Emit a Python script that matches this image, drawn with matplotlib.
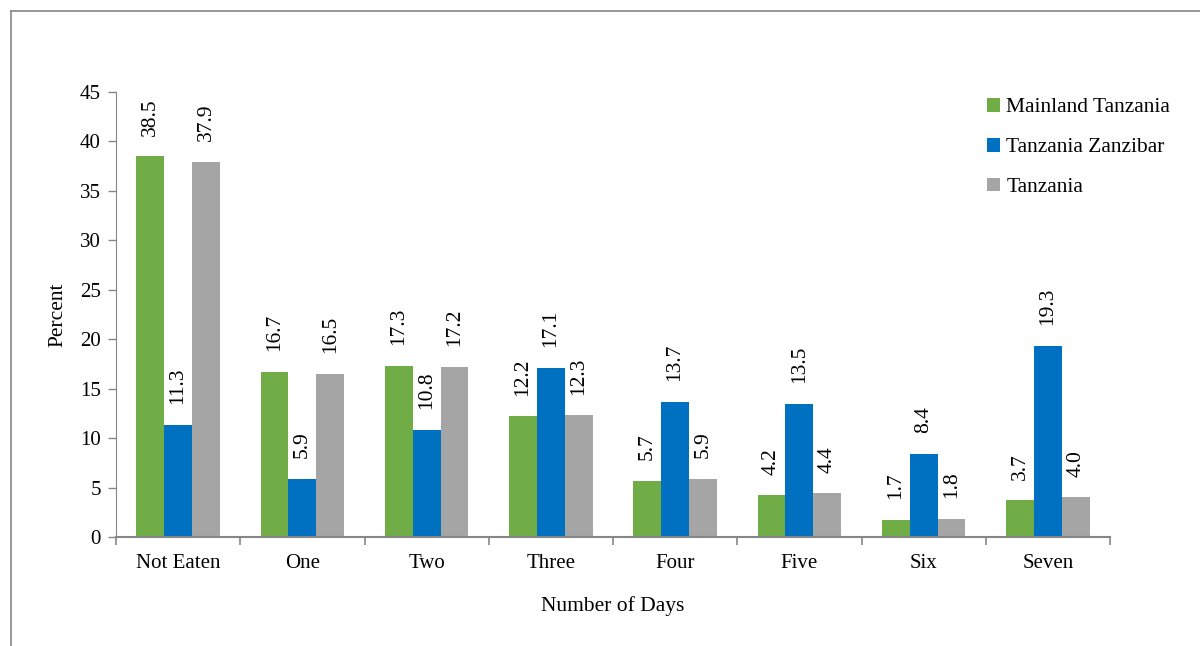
import matplotlib
matplotlib.use("Agg")
import matplotlib.pyplot as plt
import numpy as np
from matplotlib.lines import Line2D

plt.rcParams['font.family'] = ['Liberation Serif', 'DejaVu Serif']

categories = ["Not Eaten", "One", "Two", "Three", "Four", "Five", "Six", "Seven"]
series_names = ["Mainland Tanzania", "Tanzania Zanzibar", "Tanzania"]
mainland = [38.5, 16.7, 17.3, 12.2, 5.7, 4.2, 1.7, 3.7]
zanzibar = [11.3, 5.9, 10.8, 17.1, 13.7, 13.5, 8.4, 19.3]
tanzania = [37.9, 16.5, 17.2, 12.3, 5.9, 4.4, 1.8, 4.0]
colors = ["#70AD47", "#0070C0", "#A5A5A5"]
yticks = [0, 5, 10, 15, 20, 25, 30, 35, 40, 45]

fig = plt.figure(figsize=(12, 6.46), dpi=100)
ax = fig.add_axes([116/1200, 1-537/646, (1110-116)/1200, (537-92)/646])

x = np.arange(len(categories))
w = 0.224
for i, (vals, c, name) in enumerate(zip([mainland, zanzibar, tanzania], colors, series_names)):
    pos = x + (i - 1) * w
    ax.bar(pos, vals, width=w, color=c, label=name)
    for p, v in zip(pos, vals):
        ax.text(p, v + 2.1, f"{v:.1f}", rotation=90, ha='center', va='bottom', fontsize=15.5)

ax.set_xlim(-0.5, len(categories) - 0.5)
ax.set_ylim(0, 45)
ax.set_yticks(yticks)
ax.set_yticklabels([str(t) for t in yticks], fontsize=15)
ax.set_xticks(x)
ax.set_xticklabels(categories, fontsize=15)
ax.set_xticks(np.arange(-0.5, len(categories)), minor=True)
ax.tick_params(axis='x', which='major', length=0, pad=12)
ax.tick_params(axis='x', which='minor', length=6, color='#868686', width=1.2, direction='out')
ax.tick_params(axis='y', length=6, color='#868686', width=1, pad=5)
for s in ['top', 'right']:
    ax.spines[s].set_visible(False)
for s in ['left', 'bottom']:
    ax.spines[s].set_color('#868686')
ax.spines['bottom'].set_linewidth(1.5)
ax.set_ylabel("Percent", fontsize=15.5, labelpad=9)
ax.set_xlabel("Number of Days", fontsize=15.5, labelpad=17)

leg = ax.legend(loc='upper left', bbox_to_anchor=(972/1200, 1-83/646), bbox_transform=fig.transFigure,
                frameon=False, fontsize=15.5, handlelength=0.6, handleheight=0.6, handletextpad=0.3,
                labelspacing=0.95, borderpad=0.2)

fig.add_artist(Line2D([11/1200, 11/1200], [0, 1-11/646], transform=fig.transFigure, color='#868686', lw=1.2))
fig.add_artist(Line2D([11/1200, 1], [1-11/646, 1-11/646], transform=fig.transFigure, color='#868686', lw=1.2))

fig.savefig("out.png", dpi=100)
